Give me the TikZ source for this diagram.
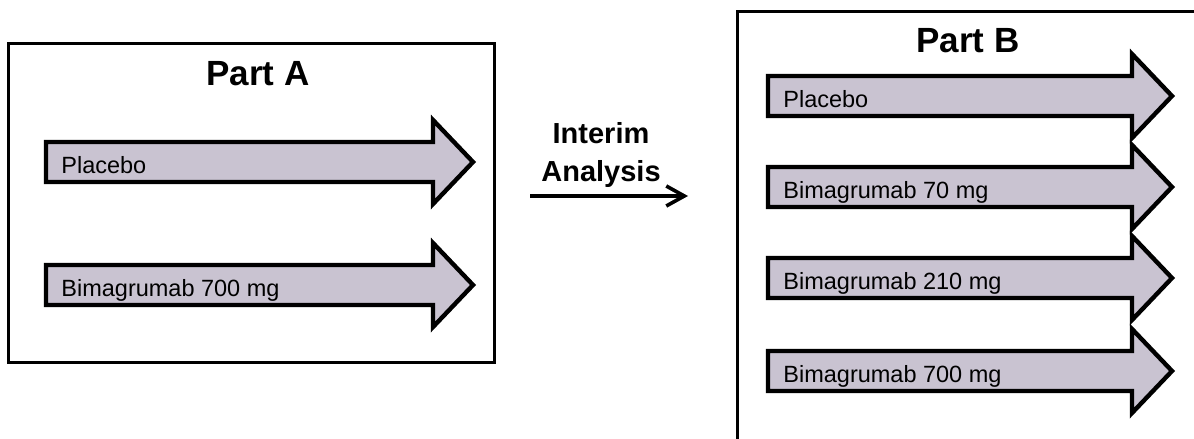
\documentclass[tikz,border=0pt]{standalone}
\usepackage{fontspec}
\setmainfont{Liberation Sans}
\usetikzlibrary{arrows.meta}
\definecolor{armfill}{HTML}{C9C3D1}
\tikzset{
  box/.style={draw, line width=1.5pt},
  armline/.style={draw, line width=2.2pt, line join=miter, fill=armfill},
  pics/arm/.style={code={
    \path[armline] (0,-20) -- ({#1-40},-20) -- ({#1-40},-42) -- (#1,0)
      -- ({#1-40},42) -- ({#1-40},20) -- (0,20) -- cycle;
  }},
  armtext/.style={anchor=base west, inner sep=0pt, font=\fontsize{11.75}{14}\selectfont},
  parttitle/.style={anchor=base, inner sep=0pt, font=\bfseries\fontsize{17.5}{21}\selectfont},
  flow/.style={draw, line width=1.8pt, -{Straight Barb[length=9pt,width=10pt,line width=1.8pt]}}
}

\begin{document}
\begin{tikzpicture}[x=0.5pt, y=-0.5pt]
  \useasboundingbox (0,0) rectangle (1194,439);
  \clip (0,0) rectangle (1194,439);

  % part A
  \draw[box] (8,43) rectangle (494,362);
  \node[parttitle] (titleA) at (258,85) {Part A};
  \pic at (46,162) {arm=427};
  \node[armtext] (placeboA) at (61,173) {Placebo};
  \pic at (46,285) {arm=427};
  \node[armtext] (highA) at (61,296) {Bimagrumab 700 mg};

  % interim step
  \node[align=center, font=\bfseries\fontsize{14.5}{19}\selectfont] (interim) at (601,155) {Interim\\Analysis};
  \coordinate (flowstart) at (530,196);
  \coordinate (flowend) at (688,196);
  \path[flow] (flowstart) -- (flowend);

  % part B
  \draw[box] (737,11) rectangle (1230,480);
  \node[parttitle] (titleB) at (968,53) {Part B};
  \pic at (768,96) {arm=404};
  \node[armtext] (placeboB) at (783,107) {Placebo};
  \pic at (768,187) {arm=404};
  \node[armtext] (lowB) at (783,198) {Bimagrumab 70 mg};
  \pic at (768,278) {arm=404};
  \node[armtext] (midB) at (783,289) {Bimagrumab 210 mg};
  \pic at (768,371) {arm=404};
  \node[armtext] (highB) at (783,382) {Bimagrumab 700 mg};
\end{tikzpicture}
\end{document}
